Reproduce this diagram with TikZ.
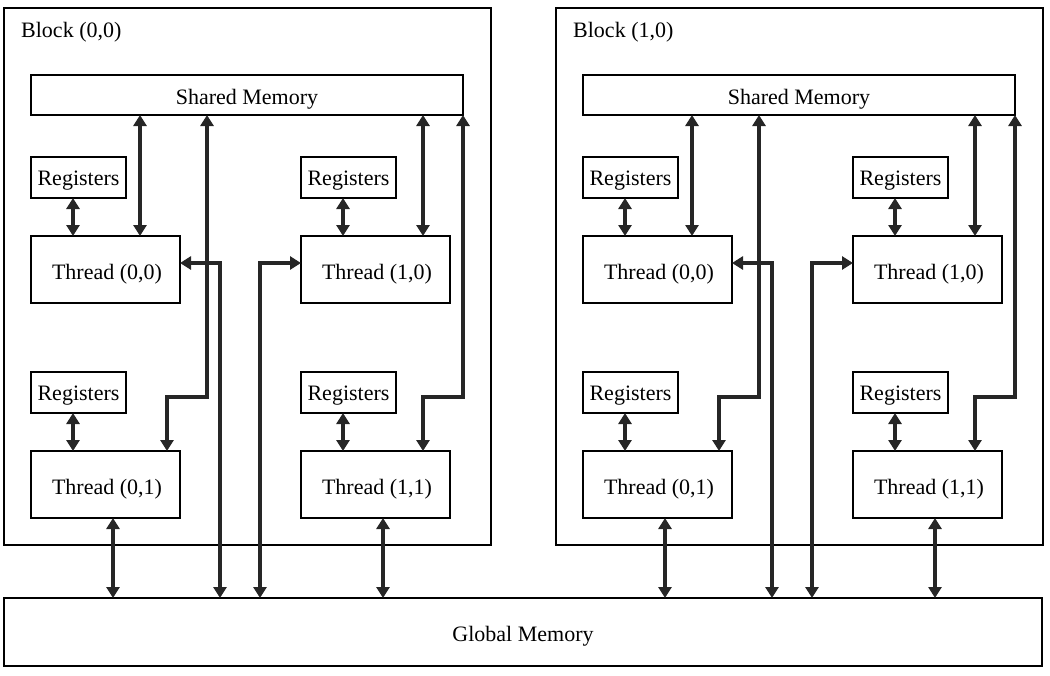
\documentclass[tikz,border=0pt]{standalone}
\usepackage{fontspec}
\setmainfont{Liberation Serif}
\usetikzlibrary{arrows.meta}
\begin{document}
\begin{tikzpicture}[x=1pt,y=-1pt,
  txt/.style={font=\fontsize{22}{25}\selectfont},
  box/.style={draw, line width=1.7pt, inner sep=0pt, outer sep=0pt, txt, text height=19pt, text depth=0pt},
  blockbox/.style={box, minimum width=487pt, minimum height=537pt},
  shbox/.style={box, minimum width=432pt, minimum height=40pt},
  thr/.style={box, minimum width=149pt, minimum height=67pt},
  reg/.style={box, minimum width=95pt, minimum height=41pt, text height=16pt},
  tipa/.tip={Triangle[width=13pt,length=11pt]},
  link/.style={line width=3.6pt, black!85, tipa-tipa}]
\useasboundingbox (0,0) rectangle (1050,675);

\node[box, minimum width=1038pt, minimum height=68pt] (gm) at (523,632) {Global Memory};

\foreach \b in {0,1}{
\begin{scope}[xshift=\b*552pt]
  \node[blockbox] (blk\b) at (247.5,276.5) {};
  \node[txt, anchor=west, inner sep=0pt] (lbl\b) at (21,32) {Block (\b,0)};
  \node[shbox] (sm\b) at (247,95) {Shared Memory\hspace{11pt}};
  \node[reg] (ra\b) at (78.5,177.5) {Registers\hspace{4pt}};
  \node[thr] (ta\b) at (105.5,269.5) {\hspace{3pt}Thread (0,0)};
  \node[reg] (rb\b) at (348.5,177.5) {Registers\hspace{4pt}};
  \node[thr] (tb\b) at (375.5,269.5) {\hspace{3pt}Thread (1,0)};
  \node[reg] (rc\b) at (78.5,392.5) {Registers\hspace{4pt}};
  \node[thr] (tc\b) at (105.5,484.5) {\hspace{3pt}Thread (0,1)};
  \node[reg] (rd\b) at (348.5,392.5) {Registers\hspace{4pt}};
  \node[thr] (td\b) at (375.5,484.5) {\hspace{3pt}Thread (1,1)};
  % registers <-> threads
  \draw[link] (73,0 |- ra\b.south) -- (73,0 |- ta\b.north);
  \draw[link] (343,0 |- rb\b.south) -- (343,0 |- tb\b.north);
  \draw[link] (73,0 |- rc\b.south) -- (73,0 |- tc\b.north);
  \draw[link] (343,0 |- rd\b.south) -- (343,0 |- td\b.north);
  % shared <-> top threads
  \draw[link] (140,0 |- sm\b.south) -- (140,0 |- ta\b.north);
  \draw[link] (423,0 |- sm\b.south) -- (423,0 |- tb\b.north);
  % shared <-> bottom threads
  \draw[link] (207,0 |- sm\b.south) -- (207,397) -| (167,0 |- tc\b.north);
  \draw[link] (463,0 |- sm\b.south) -- (463,397) -| (423,0 |- td\b.north);
  % top threads <-> global
  \draw[link] (ta\b.east |- 0,263) -| (220,0 |- gm.north);
  \draw[link] (260,0 |- gm.north) |- (tb\b.west |- 0,263);
  % bottom threads <-> global
  \draw[link] (113,0 |- tc\b.south) -- (113,0 |- gm.north);
  \draw[link] (383,0 |- td\b.south) -- (383,0 |- gm.north);
\end{scope}}
\end{tikzpicture}
\end{document}
